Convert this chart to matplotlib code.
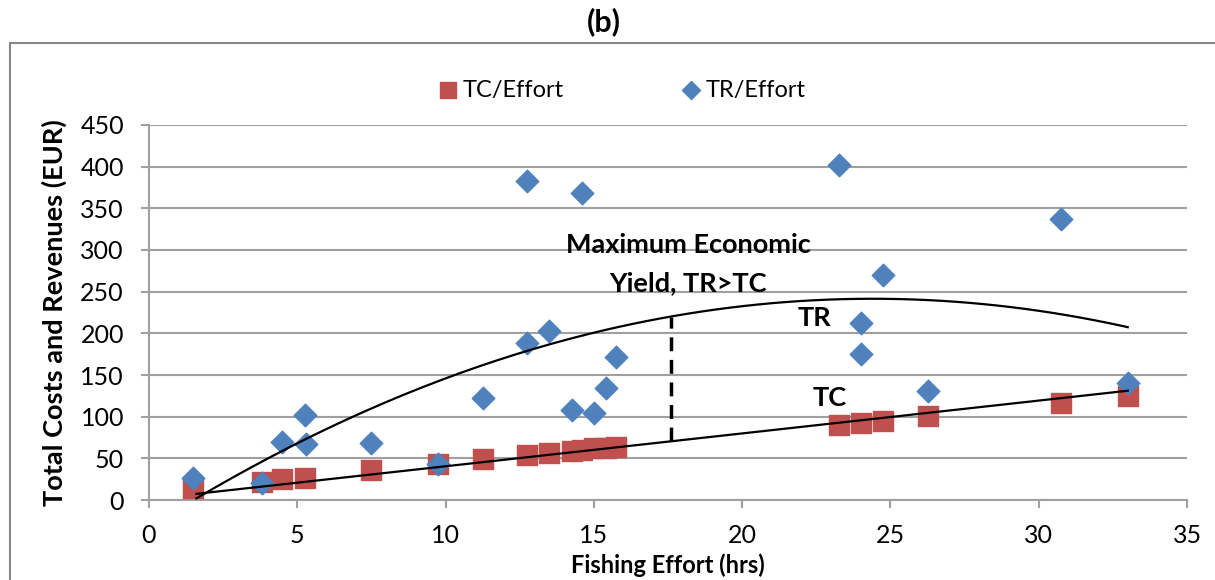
# Fishing effort vs total costs / revenues, panel (b)

import numpy as np
import matplotlib.pyplot as plt
from matplotlib.patches import Rectangle

plt.rcParams['font.family'] = ['Lato', 'DejaVu Sans']

# data
effort_tc = [1.5, 3.8, 4.5, 5.25, 7.5, 9.75, 11.25, 12.75, 13.5, 14.25, 14.6, 15.0, 15.4, 15.75,
             23.25, 24.0, 24.75, 26.25, 30.75, 33.0]
tc_values = [15, 22, 25, 27, 36, 43, 49, 54, 56, 59, 60, 62, 63, 64,
             90, 92, 95, 101, 116, 125]

effort_tr = [1.5, 3.8, 4.5, 5.25, 5.3, 7.5, 9.75, 11.25, 12.75, 12.75, 13.5, 14.25, 14.6, 15.0,
             15.4, 15.75, 23.25, 24.0, 24.0, 24.75, 26.25, 30.75, 33.0]
tr_values = [27, 21, 70, 102, 67, 69, 43, 123, 383, 189, 203, 108, 368, 105,
             134, 172, 402, 212, 175, 270, 131, 337, 140]

# trend lines (estimated coefficients)
tr_fit = [-0.4608, 22.487, -32.85]   # quadratic
tc_fit = [3.94, 1.1]                 # linear
fit_range = [1.6, 33.0]
mey_effort = 17.6

red = '#C0504D'
blue = '#4F81BD'
grid_col = '#A0A0A0'

fig = plt.figure(figsize=(12.15, 5.8), dpi=100)
ax = fig.add_axes([0.1226, 0.1379, 0.8544, 0.6466])

# chart frame
fig.patches.append(Rectangle((10 / 1215, -0.2), 1.2, 1.2 - 43 / 580,
                             transform=fig.transFigure, fill=False,
                             edgecolor='#878787', linewidth=1.5))

ax.scatter(effort_tc, tc_values, marker='s', s=14.5 ** 2, color=red, label='TC/Effort', zorder=3)
ax.scatter(effort_tr, tr_values, marker='D', s=11.5 ** 2, color=blue, label='TR/Effort', zorder=4)

xs = np.linspace(fit_range[0], fit_range[1], 200)
ax.plot(xs, np.polyval(tr_fit, xs), color='black', lw=1.6, zorder=5)
ax.plot(xs, np.polyval(tc_fit, xs), color='black', lw=1.6, zorder=5)

# MEY gap
ax.plot([mey_effort, mey_effort], [np.polyval(tc_fit, mey_effort), np.polyval(tr_fit, mey_effort)],
        color='black', lw=2.5, ls=(0, (4, 2.5)), zorder=5)

ax.text(18.17, 306, 'Maximum Economic', ha='center', va='center', fontsize=19.5, fontweight='bold')
ax.text(18.17, 260, 'Yield, TR>TC', ha='center', va='center', fontsize=19.5, fontweight='bold')
ax.text(22.45, 218, 'TR', ha='center', va='center', fontsize=19.5, fontweight='bold')
ax.text(22.96, 122, 'TC', ha='center', va='center', fontsize=19.5, fontweight='bold')

ax.set_xlim(0, 35)
ax.set_ylim(0, 450)
ax.set_xticks(np.arange(0, 36, 5))
ax.set_yticks(np.arange(0, 451, 50))
ax.yaxis.grid(True, color=grid_col, lw=1.5)
ax.set_axisbelow(True)
for s in ['top', 'right']:
    ax.spines[s].set_visible(False)
for s in ['left', 'bottom']:
    ax.spines[s].set_color(grid_col)
    ax.spines[s].set_linewidth(1.5)
ax.tick_params(axis='both', colors=grid_col, length=6, width=1.5, labelsize=18, labelcolor='black')
ax.tick_params(axis='x', pad=11)
ax.tick_params(axis='y', pad=12)

ax.set_xlabel('Fishing Effort (hrs)', fontsize=17, fontweight='bold')
ax.xaxis.set_label_coords(0.5, -0.142)
ax.set_ylabel('Total Costs and Revenues (EUR)', fontsize=19.5, fontweight='bold')
ax.yaxis.set_label_coords(-0.079, 0.5)

fig.text(604 / 1215, 1 - 22 / 580, '(b)', ha='center', va='center', fontsize=22, fontweight='bold')

fig.legend(loc='center', bbox_to_anchor=(622 / 1215, 1 - 90 / 580), ncol=2, frameon=False,
           fontsize=17, handlelength=0.8, handletextpad=0.2, columnspacing=5, markerscale=0.8)

fig.savefig('out.png', dpi=100)
